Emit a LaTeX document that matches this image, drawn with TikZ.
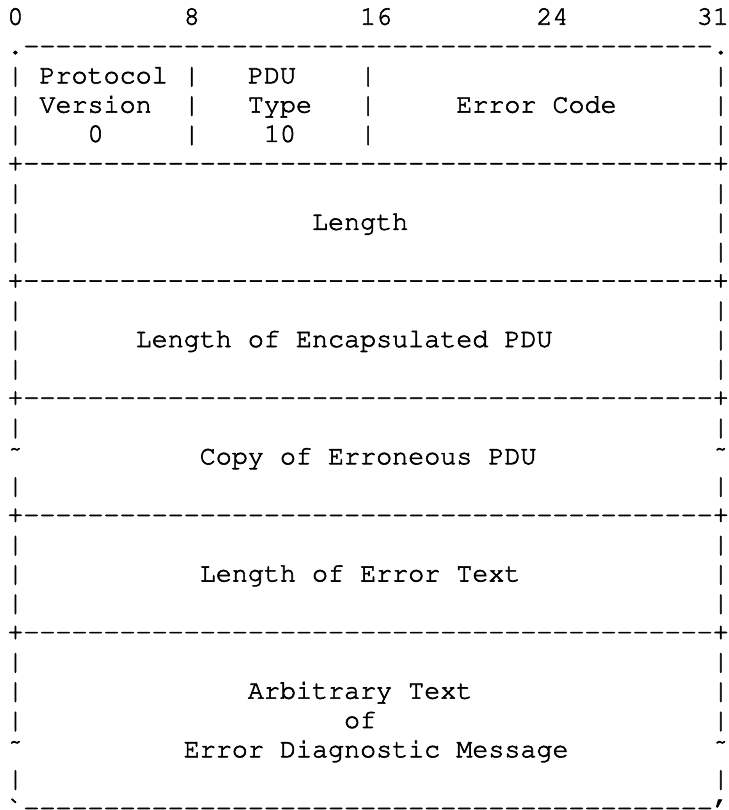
\documentclass[tikz,border=0pt]{standalone}
\usepackage[T1]{fontenc}
\usepackage{tikz}
\def\hy{-{}}
\def\hyten{\hy\hy\hy\hy\hy\hy\hy\hy\hy\hy}
\def\dashrun{\hyten\hyten\hyten\hyten\hy\hy\hy}
\def\sidebars(#1){\node[glyph] (l#1) at (0,#1) {|}; \node[glyph] (r#1) at (44,#1) {|};}
\def\fieldbars(#1){\node[glyph] (fa#1) at (11,#1) {|}; \node[glyph] (fb#1) at (22,#1) {|};}
\def\sepline(#1){\node[glyph] (pl#1) at (0,#1) {+}; \node[glyph] (sep#1) at (1,#1) {\dashrun}; \node[glyph] (pr#1) at (44,#1) {+};}
\def\waverow(#1){\node[glyph] (wl#1) at (0,#1) {\~{}}; \node[glyph] (wr#1) at (44,#1) {\~{}};}
\tikzset{glyph/.style={font=\fontfamily{pcr}\fontsize{13.36}{14.65}\selectfont, inner sep=0pt, anchor=base west,
  execute at begin node={\special{pdf:code 2 Tr 0.3 w}}, execute at end node={\special{pdf:code 0 Tr}}}}

\begin{document}
\begin{tikzpicture}[x=8.015pt, y=-14.65pt]
			%%%%% START %%%%%
			\useasboundingbox (-0.437,-0.843) rectangle (44.98,26.80);
			
			\node[glyph] (bit0) at (0,0) {0};
			\node[glyph] (bit8) at (11,0) {8};
			\node[glyph] (bit16) at (22,0) {16};
			\node[glyph] (bit24) at (33,0) {24};
			\node[glyph] (bit31) at (43,0) {31};
			
			\node[glyph] (tl) at (0,1) {.};
			\node[glyph] (top) at (1,1) {\dashrun};
			\node[glyph] (tr) at (44,1) {.};
			
			\sidebars(2) \fieldbars(2)
			\sidebars(3) \fieldbars(3)
			\sidebars(4) \fieldbars(4)
			\node[glyph] (proto) at (2,2) {Protocol};
			\node[glyph] (version) at (2,3) {Version};
			\node[glyph] (vzero) at (5,4) {0};
			\node[glyph] (pdu) at (15,2) {PDU};
			\node[glyph] (type) at (15,3) {Type};
			\node[glyph] (tten) at (16,4) {10};
			\node[glyph] (errcode) at (28,3) {Error Code};
			
			\sepline(5)
			\sidebars(6) \sidebars(7) \sidebars(8)
			\node[glyph] (length) at (19,7) {Length};
			
			\sepline(9)
			\sidebars(10) \sidebars(11) \sidebars(12)
			\node[glyph] (enclen) at (8,11) {Length of Encapsulated PDU};
			
			\sepline(13)
			\sidebars(14) \waverow(15) \sidebars(16)
			\node[glyph] (errpdu) at (12,15) {Copy of Erroneous PDU};
			
			\sepline(17)
			\sidebars(18) \sidebars(19) \sidebars(20)
			\node[glyph] (textlen) at (12,19) {Length of Error Text};
			
			\sepline(21)
			\sidebars(22) \sidebars(23) \sidebars(24) \waverow(25) \sidebars(26)
			\node[glyph] (diag1) at (15,23) {Arbitrary Text};
			\node[glyph] (diag2) at (21,24) {of};
			\node[glyph] (diag3) at (11,25) {Error Diagnostic Message};
			
			\node[glyph] (bl) at (0,27) {\`{}};
			\node[glyph] (bottom) at (1,27) {\dashrun};
			\node[glyph] (br) at (44,27) {'};
			
			%%%%% END %%%%%
\end{tikzpicture}
\end{document}
